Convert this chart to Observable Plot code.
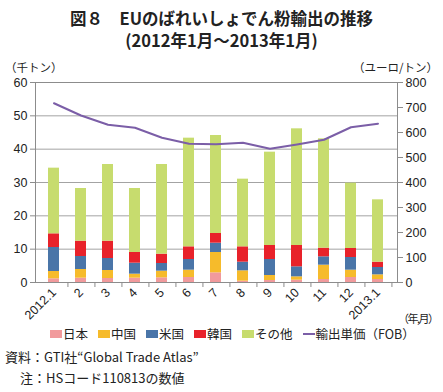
<!DOCTYPE html>
<html><head><meta charset="utf-8">
<script src="https://cdn.jsdelivr.net/npm/d3@7"></script>
<script src="https://cdn.jsdelivr.net/npm/@observablehq/plot@0.6"></script>
<style>
body{margin:0;background:#fff;}
#wrap{position:relative;width:443px;height:392px;font-family:"Noto Sans CJK JP",sans-serif;color:#222;}
.abs{position:absolute;white-space:nowrap;}
.title{left:0;width:443px;text-align:center;font-size:16.5px;font-weight:bold;line-height:20px;}
#chart{left:0;top:52px;}
.unit{font-size:11.5px;top:59px;}
#legend{top:324px;left:50px;font-size:12.5px;display:flex;align-items:center;}
.li{display:flex;align-items:center;margin-right:10px;}
.sw{width:12px;height:8px;display:inline-block;margin-right:1px;}
.ln{width:12px;height:2px;display:inline-block;margin-right:1px;background:#7b5ea7;}
.cap{font-size:13px;}
</style></head>
<body><div id="wrap">
<div class="abs title" style="top:8px;">図８　EUのばれいしょでん粉輸出の推移</div>
<div class="abs title" style="top:30px;">(2012年1月～2013年1月)</div>
<div class="abs unit" style="left:5px">（千トン）</div>
<div class="abs unit" style="left:353px">（ユーロ/トン）</div>
<div id="chart" class="abs"></div>
<div class="abs" style="left:398px;top:310px;font-size:11px;letter-spacing:-1.5px;">（年,月）</div>
<div id="legend" class="abs"></div>
<div class="abs cap" style="left:5px;top:347px;">資料：GTI社“Global Trade Atlas”</div>
<div class="abs cap" style="left:20px;top:368px;">注：HSコード110813の数値</div>
</div>
<script>
const categories = ["2012.1","2","3","4","5","6","7","8","9","10","11","12","2013.1"];
const seriesNames = ["日本","中国","米国","韓国","その他"];
const japan = [1.1,1.3,1.2,1.3,1.4,1.5,2.9,0.4,0.6,0.7,0.9,1.5,0.9];
const china = [2.2,2.6,2.4,1.2,2.0,2.2,6.1,3.1,1.5,1.0,4.3,2.2,1.4];
const usa   = [7.2,3.9,3.6,3.3,2.3,3.2,2.8,2.6,4.8,3.0,2.5,3.8,2.2];
const korea = [4.1,4.6,5.2,3.2,2.8,3.8,2.9,4.6,4.2,6.4,2.6,2.7,1.6];
const other = [19.7,15.8,23.0,19.2,26.9,32.6,29.4,20.3,28.0,35.0,32.8,19.6,18.7];
const price = [717,668,631,619,579,555,553,559,535,552,571,621,635];
const leftTicks = [0,10,20,30,40,50,60];
const rightTicks = [0,100,200,300,400,500,600,700,800];
const colors = ["#f19a9c","#f6bb2b","#4a75a8","#e8222a","#c7dc6e"];
const lineColor = "#7b5ea7";
const lineLabel = "輸出単価（FOB）";

const seriesData = [japan, china, usa, korea, other];
const rows = [];
categories.forEach((m, i) => seriesNames.forEach((s, k) => rows.push({month: m, series: s, value: seriesData[k][i]})));
const priceRows = categories.map((m, i) => ({month: m, price: price[i]}));
const scaleR = 60 / 800;

const W = 443, H = 275, ML = 35, MR = 46, MT = 30, MB = 45;
const step = (W - ML - MR) / categories.length;

const chart = Plot.plot({
  width: W, height: H, marginLeft: ML, marginRight: MR, marginTop: MT, marginBottom: MB,
  style: {fontFamily: "'Liberation Sans', sans-serif", fontSize: "12.5px", background: "transparent", color: "#222"},
  x: {domain: categories, paddingInner: 0.58, paddingOuter: 0.29, label: null},
  y: {domain: [0, 60], label: null},
  color: {domain: seriesNames, range: colors},
  marks: [
    Plot.ruleY(leftTicks, {stroke: "#a3a3a3", strokeWidth: 1}),
    Plot.barY(rows, {x: "month", y: "value", fill: "series"}),
    Plot.line(priceRows, {x: "month", y: d => d.price * scaleR, stroke: lineColor, strokeWidth: 2}),
    Plot.frame({stroke: "#8c8c8c"}),
    Plot.ruleX(categories, {x: d => d, y1: 0, y2: -1.5, dx: step / 2, stroke: "#8c8c8c"}),
    Plot.axisY({anchor: "left", ticks: leftTicks, tickSize: 5, tickPadding: 3, stroke: "#8c8c8c", fill: "#222", label: null}),
    Plot.axisY({anchor: "right", ticks: rightTicks.map(v => v * scaleR), tickFormat: d => Math.round(d / scaleR), tickSize: 5, tickPadding: 3, stroke: "#8c8c8c", fill: "#222", label: null}),
    Plot.axisX({tickRotate: -45, tickSize: 0, tickPadding: 8, label: null, fill: "#222"})
  ]
});
document.getElementById("chart").appendChild(chart);

const lg = document.getElementById("legend");
seriesNames.forEach((s, k) => {
  const d = document.createElement("div"); d.className = "li";
  d.innerHTML = `<span class="sw" style="background:${colors[k]}"></span>${s}`;
  lg.appendChild(d);
});
const dl = document.createElement("div"); dl.className = "li";
dl.innerHTML = `<span class="ln"></span>${lineLabel}`;
lg.appendChild(dl);
</script>
</body></html>
